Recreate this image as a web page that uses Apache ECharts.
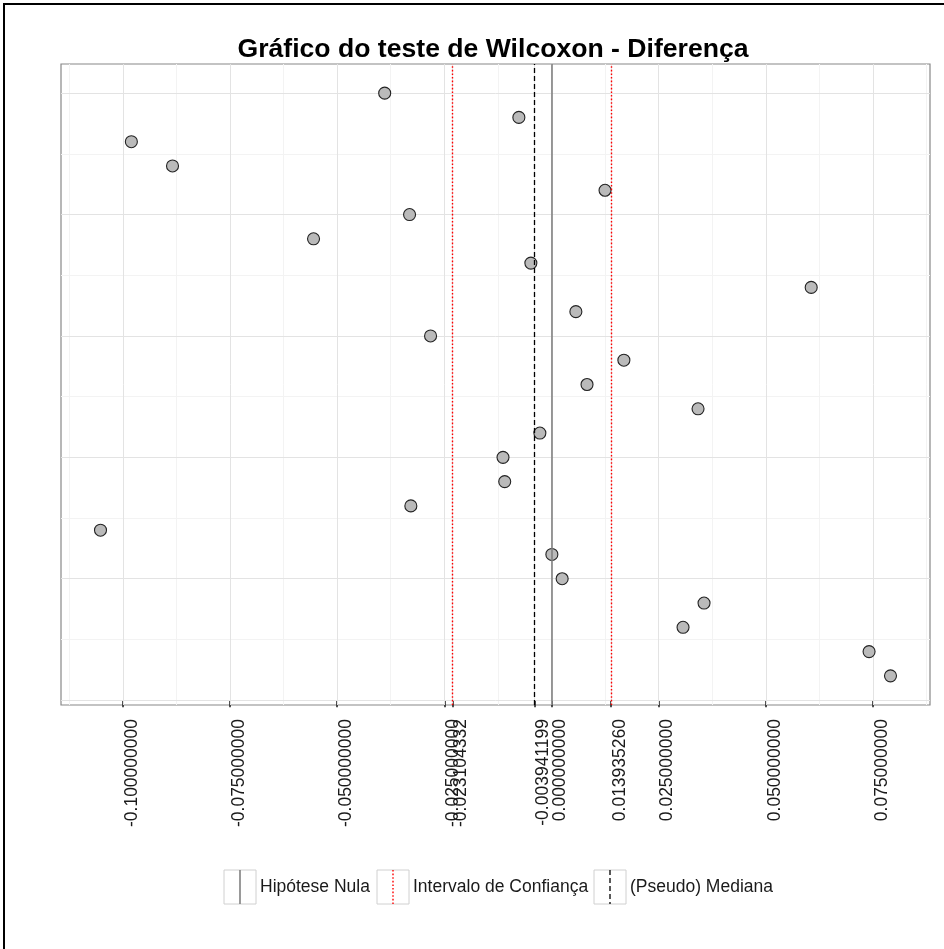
<!DOCTYPE html>
<html>
<head>
<meta charset="utf-8">
<script src="https://cdn.jsdelivr.net/npm/echarts@6/dist/echarts.min.js"></script>
<style>
html, body { margin: 0; padding: 0; background: #ffffff; }
#chart { width: 944px; height: 949px; }
</style>
</head>
<body>
<div id="chart"></div>
<script>
// Observações: posição vertical (1 = base, 25 = topo) e diferença medida
const posicao = [1, 2, 3, 4, 5, 6, 7, 8, 9, 10, 11, 12, 13, 14, 15, 16, 17, 18, 19, 20, 21, 22, 23, 24, 25];
const diferenca = [0.0791, 0.0741, 0.0307, 0.0356, 0.0025, 0.0001, -0.1052, -0.0328, -0.0109, -0.0113,
                   -0.0027, 0.0342, 0.0083, 0.0169, -0.0282, 0.0057, 0.0606, -0.0048, -0.0555, -0.0331,
                   0.0125, -0.0884, -0.0980, -0.0076, -0.0389];

// Resultados do teste
const hipoteseNula = 0;
const intervaloConfianca = [-0.023104332, 0.01393526];
const pseudoMediana = -0.003941199;

// Quebras e rótulos do eixo horizontal
const quebrasX = [-0.1, -0.075, -0.05, -0.025, -0.023104332, -0.003941199, 0, 0.01393526, 0.025, 0.05, 0.075];
const rotulosX = ['-0.100000000', '-0.075000000', '-0.050000000', '-0.025000000', '-0.023104332',
                  '-0.003941199', '0.000000000', '0.013935260', '0.025000000', '0.050000000', '0.075000000'];
const quebrasMenoresX = [-0.1125, -0.0875, -0.0625, -0.0375, -0.0125, 0.0125, 0.0375, 0.0625, 0.0875];

// Quebras do eixo vertical (sem rótulos)
const quebrasY = [0, 5, 10, 15, 20, 25];
const quebrasMenoresY = [2.5, 7.5, 12.5, 17.5, 22.5];

// Textos da legenda
const legendaTextos = ['Hipótese Nula', 'Intervalo de Confiança', '(Pseudo) Mediana'];

const FONTE = '"Liberation Sans", Arial, sans-serif';

// Limites com expansão de 5% como no ggplot
const xMin = Math.min(...diferenca), xMax = Math.max(...diferenca);
const xPad = (xMax - xMin) * 0.05;
const yMin = Math.min(...posicao), yMax = Math.max(...posicao);
const yPad = (yMax - yMin) * 0.05;

const pontos = posicao.map((p, i) => [diferenca[i], p]);

const gridLinhas = [];
quebrasMenoresX.forEach(v => gridLinhas.push({ xAxis: v, lineStyle: { color: '#f3f3f3', width: 1, type: 'solid' } }));
quebrasMenoresY.forEach(v => gridLinhas.push({ yAxis: v, lineStyle: { color: '#f3f3f3', width: 1, type: 'solid' } }));
quebrasX.forEach(v => gridLinhas.push({ xAxis: v, lineStyle: { color: '#e3e3e3', width: 1, type: 'solid' } }));
quebrasY.forEach(v => gridLinhas.push({ yAxis: v, lineStyle: { color: '#e3e3e3', width: 1, type: 'solid' } }));

const refLinhas = [
  { xAxis: hipoteseNula, lineStyle: { color: '#808080', width: 1.6, type: 'solid' } },
  { xAxis: intervaloConfianca[0], lineStyle: { color: '#ff0000', width: 1.4, type: [1.6, 2] } },
  { xAxis: intervaloConfianca[1], lineStyle: { color: '#ff0000', width: 1.4, type: [1.6, 2] } },
  { xAxis: pseudoMediana, lineStyle: { color: '#000000', width: 1.3, type: [5, 3] } }
];

const chart = echarts.init(document.getElementById('chart'), null, { renderer: 'canvas' });

// Legenda desenhada com caixas e chaves de linha
const legendaY0 = 870, caixaL = 32, caixaA = 34;
const legendaPos = [224, 377, 594];
const chaveEstilo = [
  { stroke: '#808080', lineWidth: 1.6, lineDash: null },
  { stroke: '#ff0000', lineWidth: 1.4, lineDash: [1.6, 2] },
  { stroke: '#000000', lineWidth: 1.3, lineDash: [5, 3] }
];
const legendaGraficos = [];
legendaTextos.forEach((t, i) => {
  const x = legendaPos[i];
  legendaGraficos.push({
    type: 'rect', shape: { x: x, y: legendaY0, width: caixaL, height: caixaA },
    style: { fill: '#ffffff', stroke: '#d0d0d0', lineWidth: 1 }
  });
  legendaGraficos.push({
    type: 'line', shape: { x1: x + caixaL / 2, y1: legendaY0, x2: x + caixaL / 2, y2: legendaY0 + caixaA },
    style: chaveEstilo[i]
  });
  legendaGraficos.push({
    type: 'text', x: x + caixaL + 4, y: legendaY0 + caixaA / 2,
    style: { text: t, font: '17.5px ' + FONTE, fill: '#1a1a1a', verticalAlign: 'middle', align: 'left' }
  });
});

const marcador = { silent: true, symbol: ['none', 'none'], precision: 12, label: { show: false }, animation: false };

chart.setOption({
  animation: false,
  backgroundColor: '#ffffff',
  title: {
    text: 'Gráfico do teste de Wilcoxon - Diferença',
    left: 488, top: 31, textAlign: 'center',
    textStyle: { fontFamily: FONTE, fontSize: 26.6, fontWeight: 'bold', color: '#000000' }
  },
  grid: {
    left: 61, right: 14, top: 64, bottom: 244,
    show: true, backgroundColor: '#ffffff', borderColor: '#888888', borderWidth: 1.2
  },
  xAxis: {
    type: 'value',
    min: xMin - xPad, max: xMax + xPad,
    axisLine: { show: false },
    splitLine: { show: false },
    axisTick: { show: true, customValues: quebrasX, length: 7, lineStyle: { color: '#1a1a1a', width: 1.5 } },
    axisLabel: {
      show: true, customValues: quebrasX, rotate: 90, margin: 14,
      verticalAlign: 'top',
      fontFamily: FONTE, fontSize: 17.5, color: '#1a1a1a',
      formatter: (v) => {
        const k = quebrasX.findIndex(q => Math.abs(q - v) < 1e-12);
        return k >= 0 ? rotulosX[k] : '';
      }
    }
  },
  yAxis: {
    type: 'value',
    min: yMin - yPad, max: yMax + yPad,
    axisLine: { show: false }, axisTick: { show: false }, axisLabel: { show: false },
    splitLine: { show: false }
  },
  series: [
    {
      type: 'line', data: [], z: 1, silent: true,
      markLine: Object.assign({}, marcador, { z: 1, data: gridLinhas })
    },
    {
      type: 'scatter', data: pontos, z: 3,
      symbol: 'circle', symbolSize: 12,
      itemStyle: { color: '#bababa', borderColor: '#222222', borderWidth: 1.1, opacity: 1 }
    },
    {
      type: 'line', data: [], z: 4, silent: true,
      markLine: Object.assign({}, marcador, { z: 4, data: refLinhas })
    }
  ],
  graphic: [
    {
      type: 'rect', shape: { x: 4, y: 4, width: 960, height: 960 },
      style: { fill: 'none', stroke: '#000000', lineWidth: 2 }, z: 100
    },
    { type: 'group', children: legendaGraficos }
  ]
});
</script>
</body>
</html>
